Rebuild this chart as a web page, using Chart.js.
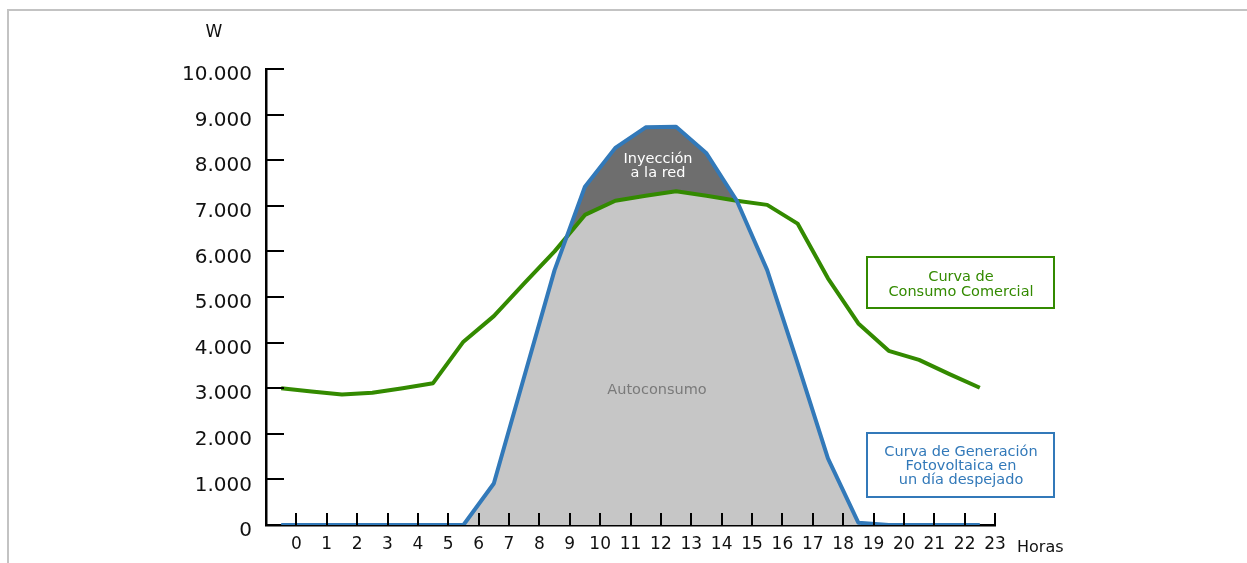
<!DOCTYPE html>
<html>
<head>
<meta charset="utf-8">
<script src="https://cdn.jsdelivr.net/npm/chart.js@4.4.1/dist/chart.umd.min.js"></script>
<style>
  html, body { margin: 0; padding: 0; background: #fff; }
  #wrap { position: relative; width: 1247px; height: 563px; overflow: hidden; }
  #frame { position: absolute; left: 7px; top: 9px; width: 1260px; height: 600px;
           border-top: 2px solid #c3c3c3; border-left: 2px solid #c3c3c3; }
  #chart { position: absolute; left: 0; top: 0; }
</style>
</head>
<body>
<div id="wrap">
  <div id="frame"></div>
  <canvas id="chart" width="1247" height="563"></canvas>
</div>
<script>
// hora del punto (centro de cada intervalo)
const hours = [-0.5, 0.5, 1.5, 2.5, 3.5, 4.5, 5.5, 6.5, 7.5, 8.5, 9.5, 10.5,
               11.5, 12.5, 13.5, 14.5, 15.5, 16.5, 17.5, 18.5, 19.5, 20.5, 21.5, 22.5];
// W
const consumo = [3000, 2930, 2860, 2900, 3000, 3110, 4020, 4580, 5300, 6000, 6800, 7110,
                 7220, 7320, 7220, 7110, 7020, 6610, 5410, 4420, 3820, 3620, 3310, 3010];
const generacion = [0, 0, 0, 0, 0, 0, 0, 910, 3250, 5590, 7420, 8270,
                    8720, 8735, 8150, 7110, 5590, 3550, 1460, 50, 0, 0, 0, 0];
const hourTicks = [0, 1, 2, 3, 4, 5, 6, 7, 8, 9, 10, 11, 12, 13, 14, 15, 16, 17, 18, 19, 20, 21, 22, 23];

const GREEN = '#338a00';
const BLUE = '#3279b9';
const FONT = '"DejaVu Sans", sans-serif';

const pts = arr => arr.map((v, i) => ({ x: hours[i], y: v }));
const fmtMiles = v => String(v).replace(/\B(?=(\d{3})+(?!\d))/g, '.');

// marcas de los ejes hacia dentro + textos sueltos
const extras = {
    id: 'extras',
    afterDraw(chart) {
        const { ctx, scales: { x, y } } = chart;
        ctx.save();
        ctx.strokeStyle = '#000';
        ctx.lineWidth = 2;
        x.ticks.forEach(t => {
            if (t.value < 0) return;
            const px = Math.round(x.getPixelForValue(t.value));
            ctx.beginPath(); ctx.moveTo(px, y.bottom); ctx.lineTo(px, y.bottom - 12); ctx.stroke();
        });
        y.ticks.forEach(t => {
            if (t.value === 0) return;
            const py = Math.round(y.getPixelForValue(t.value));
            ctx.beginPath(); ctx.moveTo(x.left, py); ctx.lineTo(x.left + 18, py); ctx.stroke();
        });

        ctx.textAlign = 'center';
        ctx.textBaseline = 'middle';
        ctx.fillStyle = '#111';
        ctx.font = '17px ' + FONT;
        ctx.fillText('W', 214, 33);
        ctx.textAlign = 'left';
        ctx.font = '16px ' + FONT;
        ctx.fillText('Horas', 1017, 548);

        ctx.textAlign = 'center';
        ctx.font = '14.5px ' + FONT;
        ctx.fillStyle = '#fff';
        ctx.fillText('Inyección', 658, 159);
        ctx.fillText('a la red', 658, 173);
        ctx.fillStyle = '#7a7a7a';
        ctx.font = '14.5px ' + FONT;
        ctx.fillText('Autoconsumo', 657, 390);

        // cajas de leyenda
        ctx.lineWidth = 2;
        ctx.strokeStyle = GREEN;
        ctx.strokeRect(867, 257, 187, 51);
        ctx.fillStyle = GREEN;
        ctx.font = '14.5px ' + FONT;
        ctx.fillText('Curva de', 961, 277);
        ctx.fillText('Consumo Comercial', 961, 292);
        ctx.strokeStyle = BLUE;
        ctx.strokeRect(867, 433, 187, 64);
        ctx.fillStyle = BLUE;
        ctx.fillText('Curva de Generación', 961, 452);
        ctx.fillText('Fotovoltaica en', 961, 466.5);
        ctx.fillText('un día despejado', 961, 480.5);
        ctx.restore();
    }
};

new Chart(document.getElementById('chart'), {
    type: 'line',
    data: {
        datasets: [
            {
                label: 'Curva de Consumo Comercial',
                data: pts(consumo),
                borderColor: GREEN,
                borderWidth: 4,
                fill: false,
                order: 2
            },
            {
                label: 'Curva de Generación Fotovoltaica',
                data: pts(generacion),
                borderColor: BLUE,
                borderWidth: 4,
                fill: { target: 0, above: '#6e6e6e', below: 'rgba(0,0,0,0)' },
                order: 1
            },
            {
                label: 'Autoconsumo',
                data: pts(generacion),
                borderWidth: 0,
                borderColor: 'rgba(0,0,0,0)',
                backgroundColor: '#c6c6c6',
                fill: 'origin',
                order: 3
            }
        ]
    },
    options: {
        responsive: false,
        animation: false,
        layout: { padding: { left: 0, top: 69, right: 252, bottom: 0 } },
        elements: {
            point: { radius: 0 },
            line: { tension: 0, borderJoinStyle: 'round', borderCapStyle: 'butt' }
        },
        plugins: {
            legend: { display: false },
            tooltip: { enabled: false },
            filler: { drawTime: 'beforeDatasetsDraw', propagate: false }
        },
        scales: {
            x: {
                type: 'linear',
                min: -1,
                max: 23,
                afterBuildTicks: s => { s.ticks = [-1, ...hourTicks].map(v => ({ value: v })); },
                afterFit: s => { s.height = 38; },
                grid: { display: false, drawTicks: false },
                border: { display: true, color: '#000', width: 2.5 },
                ticks: {
                    autoSkip: false,
                    maxRotation: 0,
                    padding: 9,
                    color: '#111',
                    font: { family: 'DejaVu Sans', size: 17 },
                    callback: v => (v < 0 ? '' : String(v))
                }
            },
            y: {
                min: 0,
                max: 10000,
                afterFit: s => { s.width = 266; },
                grid: { display: false, drawTicks: false },
                border: { display: true, color: '#000', width: 2.5 },
                ticks: {
                    stepSize: 1000,
                    padding: 14,
                    labelOffset: 6,
                    color: '#111',
                    font: { family: 'DejaVu Sans', size: 20 },
                    callback: v => fmtMiles(v)
                }
            }
        }
    },
    plugins: [extras]
});
</script>
</body>
</html>
